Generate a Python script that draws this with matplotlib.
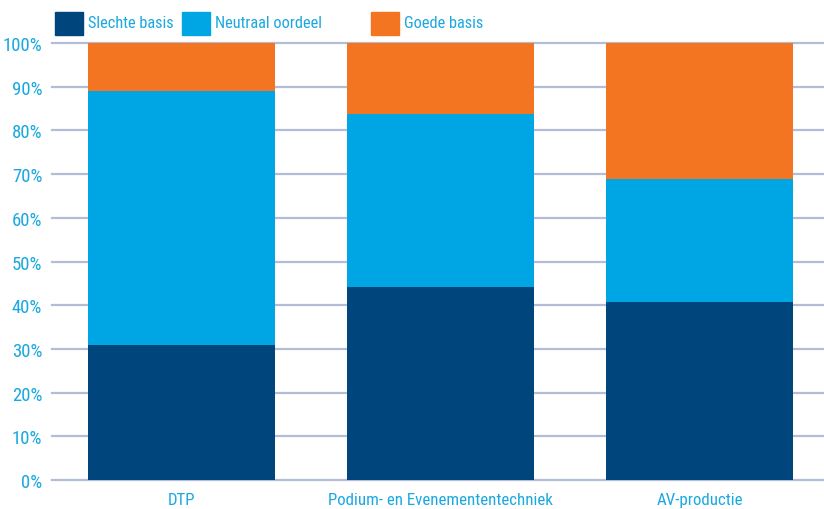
import matplotlib
matplotlib.use("Agg")
import matplotlib.pyplot as plt
from matplotlib.patches import Rectangle
from matplotlib import font_manager as fm

categories = ["DTP", "Podium- en Evenemententechniek", "AV-productie"]
slecht = [30.9, 44.2, 40.7]
neutraal = [58.2, 39.6, 28.2]
goed = [10.9, 16.2, 31.1]
series_names = ["Slechte basis", "Neutraal oordeel", "Goede basis"]
colors = ["#00457C", "#00A5E3", "#F47521"]
yticks = [0, 10, 20, 30, 40, 50, 60, 70, 80, 90, 100]
ytick_labels = [f"{v}%" for v in yticks]

# pick a condensed font if available
cand = None
files = [f.fname for f in fm.fontManager.ttflist]
for key in ["LiberationSansNarrow-Regular", "RobotoCondensed-Regular", "OpenSans_Condensed-Regular",
            "OpenSansCondensed", "NotoSans-Condensed", "NotoSansCondensed", "DejaVuSansCondensed.ttf"]:
    m = [p for p in files if key.lower() in p.lower()]
    if m:
        cand = m[0]
        break
if cand is None:
    m = [p for p in files if ("narrow" in p.lower() or "condensed" in p.lower())
         and "bold" not in p.lower() and "italic" not in p.lower() and "oblique" not in p.lower()]
    if m:
        cand = m[0]


def fprop(size):
    if cand:
        return fm.FontProperties(fname=cand, size=size)
    return fm.FontProperties(family='DejaVu Sans', size=size - 2)


txtcol = "#1AA8E0"
gridcol = "#B3BDD8"

fig = plt.figure(figsize=(8.24, 5.10), dpi=100)
W, H = 824, 510
ax = fig.add_axes([52 / W, (H - 481) / H, (824 - 52) / W, (481 - 44) / H])

x = list(range(len(categories)))
bottom = [0] * len(categories)
for vals, col in zip([slecht, neutraal, goed], colors):
    ax.bar(x, vals, width=0.722, bottom=bottom, color=col, zorder=3)
    bottom = [b + v for b, v in zip(bottom, vals)]

ax.set_xlim(-0.5, 2.48)
ax.set_ylim(0, 100)
ax.set_yticks(yticks)
ax.set_yticklabels(ytick_labels, fontproperties=fprop(13.5), color=txtcol)
ax.set_xticks(x)
ax.set_xticklabels(categories, fontproperties=fprop(12.2), color=txtcol)
for t in yticks:
    ax.axhline(t, color=gridcol, lw=1.6, zorder=1, clip_on=False)
for s in ax.spines.values():
    s.set_visible(False)
ax.tick_params(axis='both', length=0)
ax.tick_params(axis='y', pad=7)
ax.tick_params(axis='x', pad=9)

# legend
leg_items = [(55, 88), (182, 215), (371, 404)]
for (sx, tx), name, col in zip(leg_items, series_names, colors):
    fig.patches.append(Rectangle((sx / W, (H - 36) / H), 28 / W, 23 / H,
                                 transform=fig.transFigure, color=col))
    fig.text(tx / W, (H - 24) / H, name, color=txtcol, fontproperties=fprop(11.8),
             va='center', ha='left')

fig.savefig("out.png", dpi=100)
